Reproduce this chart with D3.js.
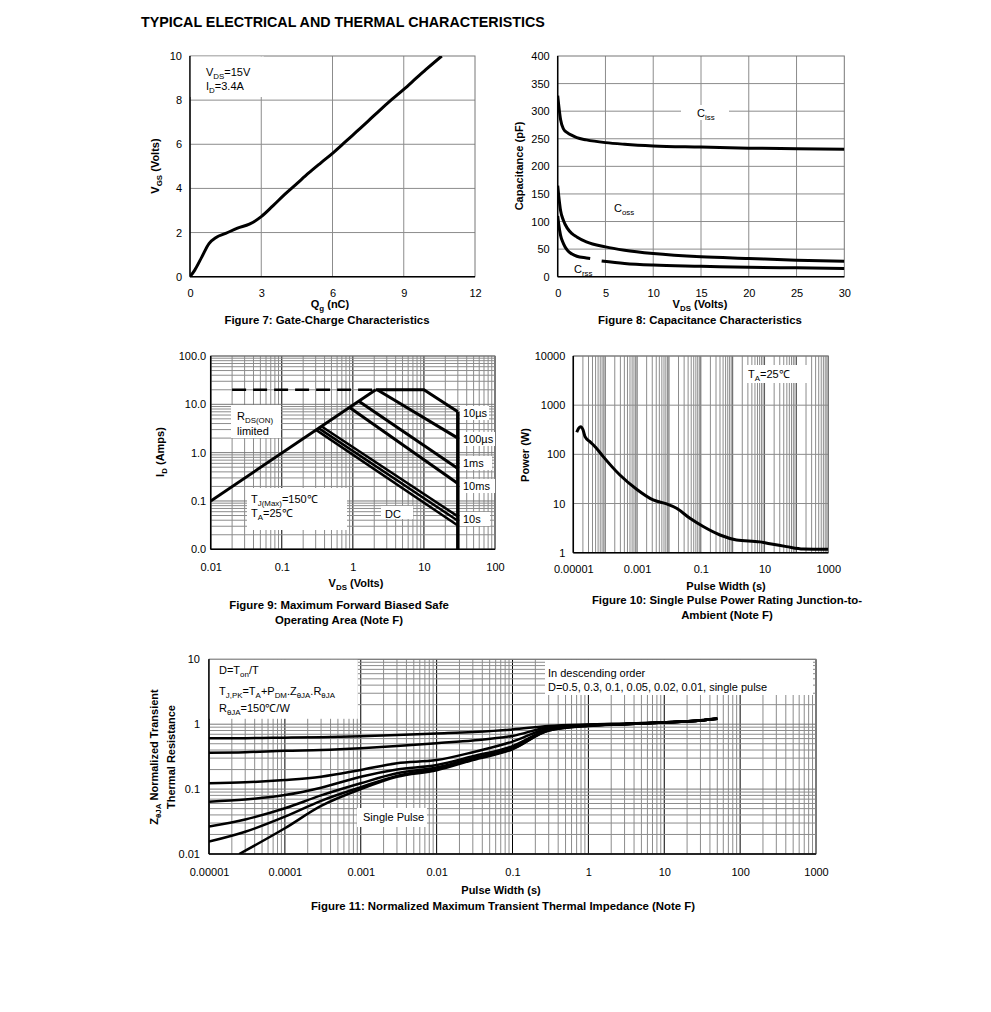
<!DOCTYPE html>
<html><head><meta charset="utf-8">
<script src="https://cdn.jsdelivr.net/npm/d3@7"></script>
<style>body{margin:0;background:#fff}svg{font-family:"Liberation Sans",Arial,sans-serif}</style>
</head><body><svg id="c" width="991" height="1012"></svg>
<script>
// ---------- DATA ----------
// Figure 7: Gate charge
const fig7Q   = [0,0.2,0.5,0.8,1.1,1.5,2.0,2.5,3.0,3.5,4.0,4.5,5.0,5.5,6.0,6.5,7.0,7.5,8.0,8.5,9.0,9.5,10.0,10.6];
const fig7Vgs = [0,0.3,0.9,1.5,1.78,1.96,2.2,2.38,2.72,3.22,3.74,4.22,4.7,5.15,5.59,6.07,6.56,7.05,7.55,8.03,8.49,8.97,9.45,10.0];
const fig7XTicks = [0,3,6,9,12];
const fig7YTicks = [0,2,4,6,8,10];

// Figure 8: Capacitance
const fig8V    = [0,0.1,0.3,0.6,1,1.5,2,3,5,7,10,15,20,25,30];
const fig8Ciss = [328,312,285,268,261,256,252,248,243,240,237,235,233,232,231];
const fig8Coss = [165,148,120,102,88,78,72,63,54,48,42,36,33,30,28];
const fig8CrssV1 = [0,0.1,0.3,0.6,1,1.5,2,3,3.4];
const fig8Crss1  = [110,96,75,60,48,41,37,34,33];
const fig8CrssV2 = [4.6,7,10,15,20,25,30];
const fig8Crss2  = [28.5,24,21,19,17,16,15];
const fig8XTicks = [0,5,10,15,20,25,30];
const fig8YTicks = [0,50,100,150,200,250,300,350,400];

// Figure 9: SOA  (VDS, ID)
const soaRds     = [[0.01,0.1],[2.1,20]];
const soaDashed  = [[0.02,20],[2.1,20]];
const soa10us    = [[2.1,20],[10,20],[30,7]];
const soa100us   = [[2.2,20],[30,2.0]];
const soa1ms     = [[1.2,11.7],[30,0.47]];
const soa10ms    = [[0.9,8.6],[30,0.23]];
const soa1s      = [[0.355,3.55],[30,0.048]];
const soa10s     = [[0.325,3.25],[30,0.039]];
const soaDC      = [[0.3,3.0],[30,0.031]];
const soaVmax    = [[30,7],[30,0.01]];
const fig9XTicks = [0.01,0.1,1,10,100];
const fig9XLabels = ["0.01","0.1","1","10","100"];
const fig9YTicks = [0.01,0.1,1,10,100];
const fig9YLabels = ["0.0","0.1","1.0","10.0","100.0"];

// Figure 10: Single pulse power
const fig10T = [1.28e-5,1.5e-5,1.71e-5,2.0e-5,2.33e-5,3.33e-5,5e-5,8.7e-5,2.9e-4,9.7e-4,3.2e-3,8.5e-3,0.0174,0.0457,0.119,0.4,1.32,7.1,14.7,49,163,1000];
const fig10P = [281,345,366,320,229,181,140,90,38,19.5,11.8,9.8,8.0,5.0,3.4,2.29,1.82,1.66,1.52,1.33,1.19,1.17];
const fig10XTicks = [1e-5,1e-3,0.1,10,1000];
const fig10XLabels = ["0.00001","0.001","0.1","10","1000"];
const fig10YTicks = [1,10,100,1000,10000];
const fig10YLabels = ["1","10","100","1000","10000"];

// Figure 11: Transient thermal impedance
const zT     = [1e-5,3e-5,1e-4,3e-4,1e-3,3e-3,1e-2,3e-2,0.1,0.3,1,3,10,30,50];
const zD05   = [0.61,0.61,0.62,0.63,0.65,0.68,0.72,0.76,0.83,0.94,0.99,1.02,1.07,1.15,1.22];
const zD03   = [0.364,0.37,0.39,0.40,0.425,0.46,0.51,0.56,0.66,0.90,0.98,1.02,1.07,1.15,1.22];
const zD01   = [0.123,0.127,0.138,0.155,0.197,0.25,0.28,0.37,0.54,0.86,0.97,1.01,1.06,1.14,1.21];
const zD005  = [0.064,0.069,0.081,0.105,0.155,0.20,0.235,0.32,0.46,0.82,0.96,1.0,1.06,1.14,1.21];
const zD002  = [0.0264,0.034,0.0506,0.080,0.123,0.175,0.215,0.30,0.44,0.81,0.95,1.0,1.06,1.14,1.21];
const zD001  = [0.0155,0.022,0.0376,0.066,0.107,0.16,0.205,0.29,0.42,0.80,0.95,1.0,1.06,1.14,1.21];
const zSingleT = [2.5e-5,1e-4,3e-4,1e-3,3e-3,1e-2,3e-2,0.1,0.3,1,3,10,30,50];
const zSingle  = [0.01,0.0249,0.055,0.1,0.155,0.195,0.28,0.41,0.80,0.94,1.0,1.06,1.14,1.21];
const fig11XTicks = [1e-5,1e-4,1e-3,1e-2,0.1,1,10,100,1000];
const fig11XLabels = ["0.00001","0.0001","0.001","0.01","0.1","1","10","100","1000"];
const fig11YTicks = [0.01,0.1,1,10];
const fig11YLabels = ["0.01","0.1","1","10"];

// ---------- HELPERS ----------
const svg = d3.select("#c");
const GRID = "#8c8c8c";
const CAP = 11.4;
let clipId = 0;

function rtext(g, x, y, parts, o = {}) {
  const fs = o.size || 11;
  const t = g.append("text").attr("x", x).attr("y", y).attr("font-size", fs)
    .attr("text-anchor", o.anchor || "start")
    .attr("font-weight", o.bold ? "bold" : "normal").attr("fill", "#000");
  if (o.rotate) t.attr("transform", `rotate(-90,${x},${y})`);
  let shifted = false;
  parts.forEach(p => {
    const isSub = typeof p !== "string";
    const ts = t.append("tspan").text(isSub ? p.s : p);
    if (isSub) {
      ts.attr("font-size", fs * 0.72);
      if (!shifted) { ts.attr("dy", fs * 0.28); shifted = true; }
    } else if (shifted) { ts.attr("dy", -fs * 0.28); shifted = false; }
  });
  return t;
}
const sub = s => ({ s });

function logVals(lo, hi) {
  const v = [];
  const e0 = Math.round(Math.log10(lo)), e1 = Math.round(Math.log10(hi));
  for (let e = e0; e < e1; e++) for (let k = 1; k < 10; k++) v.push({ v: k * Math.pow(10, e), major: k === 1 });
  v.push({ v: hi, major: true });
  return v;
}

function panel(p) {
  const g = svg.append("g");
  const x = p.xs.range([p.x0, p.x1]);
  const y = p.ys.range([p.y1, p.y0]);
  const id = "clip" + (clipId++);
  svg.append("clipPath").attr("id", id).append("rect")
    .attr("x", p.x0).attr("y", p.y0).attr("width", p.x1 - p.x0).attr("height", p.y1 - p.y0);
  const gg = g.append("g");
  (p.vGrid || []).forEach(d => {
    gg.append("line").attr("x1", x(d.v)).attr("x2", x(d.v)).attr("y1", p.y0).attr("y2", p.y1)
      .attr("stroke", d.major ? (p.vMajor || GRID) : GRID).attr("stroke-width", 1);
  });
  (p.hGrid || []).forEach(d => {
    gg.append("line").attr("y1", y(d.v)).attr("y2", y(d.v)).attr("x1", p.x0).attr("x2", p.x1)
      .attr("stroke", d.major ? (p.hMajor || GRID) : GRID).attr("stroke-width", 1);
  });
  g.append("rect").attr("x", p.x0).attr("y", p.y0).attr("width", p.x1 - p.x0).attr("height", p.y1 - p.y0)
    .attr("fill", "none").attr("stroke", "#777").attr("stroke-width", 1);
  g.append("line").attr("x1", p.x0).attr("x2", p.x0).attr("y1", p.y0).attr("y2", p.y1).attr("stroke", "#000").attr("stroke-width", 1.5);
  g.append("line").attr("x1", p.x0).attr("x2", p.x1).attr("y1", p.y1).attr("y2", p.y1).attr("stroke", "#000").attr("stroke-width", 1.5);
  const ax = g.append("g").attr("transform", `translate(0,${p.y1})`)
    .call(d3.axisBottom(x).tickValues(p.xTicks).tickFormat((d, i) => p.xLabels ? p.xLabels[i] : d).tickSize(0).tickPadding(p.xPad));
  const ay = g.append("g").attr("transform", `translate(${p.x0},0)`)
    .call(d3.axisLeft(y).tickValues(p.yTicks).tickFormat((d, i) => p.yLabels ? p.yLabels[i] : d).tickSize(0).tickPadding(p.yPad));
  [ax, ay].forEach(a => {
    a.select(".domain").remove();
    a.attr("font-size", 11).attr("font-family", '"Liberation Sans", Arial, sans-serif');
    a.selectAll("text").attr("fill", "#000");
  });
  const plot = g.append("g").attr("clip-path", `url(#${id})`);
  return { g, x, y, plot, annot: g.append("g"), labels: g.append("g") };
}

function drawLine(P, pts, w, dash) {
  const gen = d3.line().x(d => P.x(d[0])).y(d => P.y(d[1])).curve(d3.curveMonotoneX);
  const path = P.plot.append("path").attr("d", gen(pts)).attr("fill", "none").attr("stroke", "#000")
    .attr("stroke-width", w).attr("stroke-linejoin", "round").attr("stroke-linecap", "butt");
  if (dash) path.attr("stroke-dasharray", dash);
  return path;
}
function drawPoly(P, pts, w, dash) {
  const gen = d3.line().x(d => P.x(d[0])).y(d => P.y(d[1]));
  const path = P.plot.append("path").attr("d", gen(pts)).attr("fill", "none").attr("stroke", "#000")
    .attr("stroke-width", w).attr("stroke-linejoin", "miter");
  if (dash) path.attr("stroke-dasharray", dash);
  return path;
}
const zip = (a, b) => a.map((v, i) => [v, b[i]]);
function box(P, x, y, w, h) {
  P.annot.append("rect").attr("x", x).attr("y", y).attr("width", w).attr("height", h).attr("fill", "#fff");
}

// ---------- TITLE ----------
rtext(svg, 141, 27, ["TYPICAL ELECTRICAL AND THERMAL CHARACTERISTICS"], { size: 14.3, bold: true });

// ---------- FIGURE 7 ----------
{
  const P = panel({
    x0: 190, x1: 475, y0: 56, y1: 276.7,
    xs: d3.scaleLinear().domain([0, 12]), ys: d3.scaleLinear().domain([0, 10]),
    vGrid: fig7XTicks.slice(1, -1).map(v => ({ v })), hGrid: fig7YTicks.slice(1, -1).map(v => ({ v })),
    xTicks: fig7XTicks, yTicks: fig7YTicks, xPad: 13, yPad: 8
  });
  box(P, 190.8, 56.5, 73, 40.5);
  drawLine(P, zip(fig7Q, fig7Vgs), 3);
  rtext(P.labels, 206, 75.5, ["V", sub("DS"), "=15V"]);
  rtext(P.labels, 206, 90, ["I", sub("D"), "=3.4A"]);
  rtext(svg, 330, 308, ["Q", sub("g"), " (nC)"], { bold: true, anchor: "middle" });
  rtext(svg, 327, 324, ["Figure 7: Gate-Charge Characteristics"], { bold: true, anchor: "middle", size: CAP });
  rtext(svg, 159, 166, ["V", sub("GS"), " (Volts)"], { bold: true, anchor: "middle", rotate: true });
}

// ---------- FIGURE 8 ----------
{
  const P = panel({
    x0: 557.7, x1: 844.3, y0: 56, y1: 276.7,
    xs: d3.scaleLinear().domain([0, 30]), ys: d3.scaleLinear().domain([0, 400]),
    vGrid: fig8XTicks.slice(1, -1).map(v => ({ v })), hGrid: fig8YTicks.slice(1, -1).map(v => ({ v })),
    xTicks: fig8XTicks, yTicks: fig8YTicks, xPad: 12.5, yPad: 8
  });
  box(P, 681, 105, 48, 15);
  drawLine(P, zip(fig8V, fig8Ciss), 3);
  drawLine(P, zip(fig8V, fig8Coss), 3);
  drawLine(P, zip(fig8CrssV1, fig8Crss1), 3);
  drawLine(P, zip(fig8CrssV2, fig8Crss2), 3);
  rtext(P.labels, 697, 117, ["C", sub("iss")]);
  rtext(P.labels, 614, 212, ["C", sub("oss")]);
  rtext(P.labels, 574, 273, ["C", sub("rss")]);
  rtext(svg, 700, 308, ["V", sub("DS"), " (Volts)"], { bold: true, anchor: "middle" });
  rtext(svg, 700, 324, ["Figure 8: Capacitance Characteristics"], { bold: true, anchor: "middle", size: CAP });
  rtext(svg, 523, 166, ["Capacitance (pF)"], { bold: true, anchor: "middle", rotate: true });
}

// ---------- FIGURE 9 ----------
{
  const P = panel({
    x0: 210.7, x1: 495, y0: 356, y1: 549.3,
    xs: d3.scaleLog().domain([0.01, 100]), ys: d3.scaleLog().domain([0.01, 100]),
    vGrid: logVals(0.01, 100), hGrid: logVals(0.01, 100), vMajor: "#000", hMajor: "#777",
    xTicks: fig9XTicks, xLabels: fig9XLabels, yTicks: fig9YTicks, yLabels: fig9YLabels, xPad: 13.5, yPad: 4.5
  });
  box(P, 231, 405, 50, 33);
  box(P, 247, 488, 100, 42);
  box(P, 381, 506, 32, 13);
  box(P, 460, 406, 29, 14);
  box(P, 460, 432, 35, 14);
  box(P, 460, 456, 32, 14);
  box(P, 460, 479, 35, 14);
  box(P, 460, 512, 30, 14);
  drawPoly(P, soaDashed, 2.5, "14,7");
  drawPoly(P, soaRds, 3);
  drawPoly(P, soa10us, 3);
  drawPoly(P, soa100us, 3);
  drawPoly(P, soa1ms, 3);
  drawPoly(P, soa10ms, 3);
  drawPoly(P, soa1s, 2.5);
  drawPoly(P, soa10s, 2.5);
  drawPoly(P, soaDC, 2.5);
  drawPoly(P, soaVmax, 3.5);
  rtext(P.labels, 237, 420, ["R", sub("DS(ON)")]);
  rtext(P.labels, 237, 435, ["limited"]);
  rtext(P.labels, 251, 503, ["T", sub("J(Max)"), "=150℃"]);
  rtext(P.labels, 251, 517, ["T", sub("A"), "=25℃"]);
  rtext(P.labels, 385, 518, ["DC"]);
  rtext(P.labels, 463, 416.5, ["10µs"]);
  rtext(P.labels, 463, 443, ["100µs"]);
  rtext(P.labels, 463, 467, ["1ms"]);
  rtext(P.labels, 463, 490, ["10ms"]);
  rtext(P.labels, 463, 523, ["10s"]);
  rtext(svg, 356, 587, ["V", sub("DS"), " (Volts)"], { bold: true, anchor: "middle" });
  rtext(svg, 339, 609, ["Figure 9: Maximum Forward Biased Safe"], { bold: true, anchor: "middle", size: CAP });
  rtext(svg, 339, 624, ["Operating Area (Note F)"], { bold: true, anchor: "middle", size: CAP });
  rtext(svg, 164, 452, ["I", sub("D"), " (Amps)"], { bold: true, anchor: "middle", rotate: true });
}

// ---------- FIGURE 10 ----------
{
  const P = panel({
    x0: 573.3, x1: 828.3, y0: 356, y1: 552.7,
    xs: d3.scaleLog().domain([1e-5, 1000]), ys: d3.scaleLog().domain([1, 10000]),
    vGrid: logVals(1e-5, 1000), hGrid: fig10YTicks.map(v => ({ v, major: true })), vMajor: "#555", hMajor: GRID,
    xTicks: fig10XTicks, xLabels: fig10XLabels, yTicks: fig10YTicks, yLabels: fig10YLabels, xPad: 13, yPad: 8
  });
  box(P, 743, 365, 65, 18);
  drawLine(P, zip(fig10T, fig10P), 3);
  rtext(P.labels, 748, 378, ["T", sub("A"), "=25℃"]);
  rtext(svg, 726, 590, ["Pulse Width (s)"], { bold: true, anchor: "middle" });
  rtext(svg, 727, 604, ["Figure 10: Single Pulse Power Rating Junction-to-"], { bold: true, anchor: "middle", size: CAP });
  rtext(svg, 727, 619, ["Ambient (Note F)"], { bold: true, anchor: "middle", size: CAP });
  rtext(svg, 529, 455, ["Power (W)"], { bold: true, anchor: "middle", rotate: true });
}

// ---------- FIGURE 11 ----------
{
  const P = panel({
    x0: 209, x1: 816, y0: 659.3, y1: 854,
    xs: d3.scaleLog().domain([1e-5, 1000]), ys: d3.scaleLog().domain([0.01, 10]),
    vGrid: logVals(1e-5, 1000), hGrid: logVals(0.01, 10), vMajor: "#000", hMajor: "#777",
    xTicks: fig11XTicks, xLabels: fig11XLabels, yTicks: fig11YTicks, yLabels: fig11YLabels, xPad: 14, yPad: 9
  });
  box(P, 209.8, 659.8, 148, 59);
  box(P, 545, 660, 268, 35);
  box(P, 357, 808, 70, 19);
  [zD05, zD03, zD01, zD005, zD002, zD001].forEach(s => drawLine(P, zip(zT, s), 2.5));
  drawLine(P, zip(zSingleT, zSingle), 2.5);
  rtext(P.labels, 219, 674, ["D=T", sub("on"), "/T"]);
  rtext(P.labels, 219, 694.5, ["T", sub("J,PK"), "=T", sub("A"), "+P", sub("DM"), ".Z", sub("θJA"), ".R", sub("θJA")]);
  rtext(P.labels, 219, 712, ["R", sub("θJA"), "=150℃/W"]);
  rtext(P.labels, 548, 677, ["In descending order"]);
  rtext(P.labels, 548, 690.5, ["D=0.5, 0.3, 0.1, 0.05, 0.02, 0.01, single pulse"]);
  rtext(P.labels, 363, 820.5, ["Single Pulse"]);
  rtext(svg, 501, 894, ["Pulse Width (s)"], { bold: true, anchor: "middle" });
  rtext(svg, 503, 910, ["Figure 11: Normalized Maximum Transient Thermal Impedance (Note F)"], { bold: true, anchor: "middle", size: CAP });
  rtext(svg, 158, 757, ["Z", sub("θJA"), " Normalized Transient"], { bold: true, anchor: "middle", rotate: true });
  rtext(svg, 175, 757, ["Thermal Resistance"], { bold: true, anchor: "middle", rotate: true });
}
</script></body></html>
